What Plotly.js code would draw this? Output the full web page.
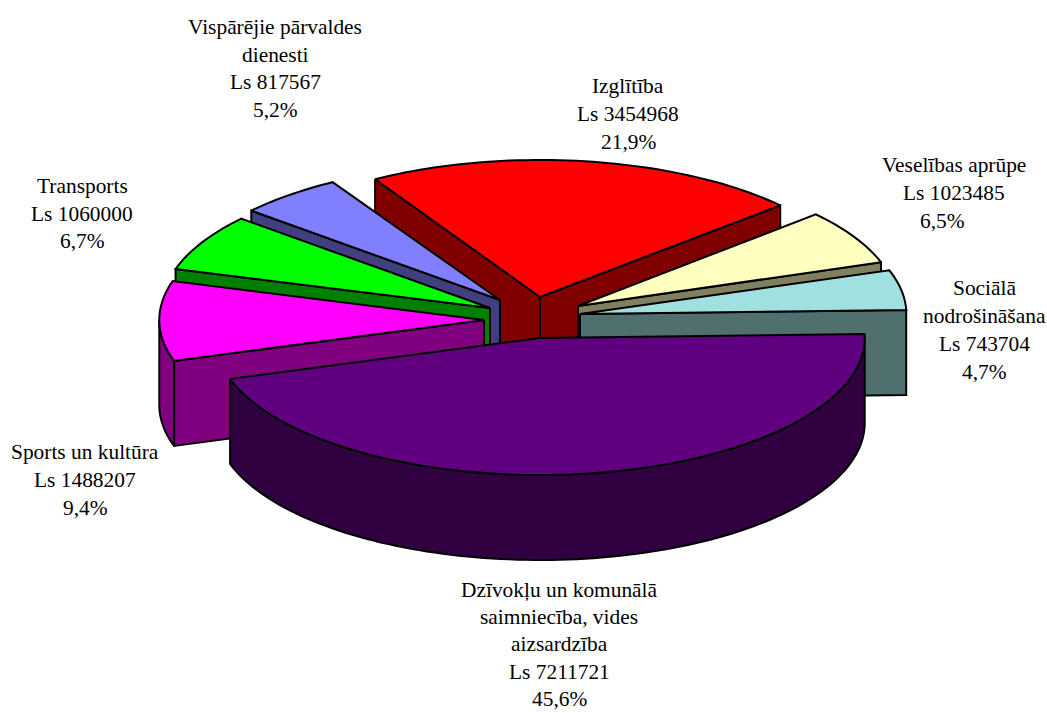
<!DOCTYPE html>
<html>
<head>
<meta charset="utf-8">
<script src="https://cdn.plot.ly/plotly-3.0.1.min.js"></script>
<style>html,body{margin:0;padding:0;background:#fff;overflow:hidden}</style>
</head>
<body>
<div id="chart" style="width:1047px;height:713px"></div>
<script>
// Data, in the clockwise order of the pie
const categories = [
  ["Dzīvokļu un komunālā", "saimniecība, vides", "aizsardzība"],
  ["Sports un kultūra"],
  ["Transports"],
  ["Vispārējie pārvaldes", "dienesti"],
  ["Izglītība"],
  ["Veselības aprūpe"],
  ["Sociālā", "nodrošināšana"]
];
const values = [7211721, 1488207, 1060000, 817567, 3454968, 1023485, 743704];
const percentLabels = ["45,6%", "9,4%", "6,7%", "5,2%", "21,9%", "6,5%", "4,7%"];
const topColors = ["#600080", "#FF00FF", "#00FF00", "#8080FF", "#FF0000", "#FFFFC0", "#A0E0E0"];
const sideColors = ["#300040", "#800080", "#008000", "#404080", "#800000", "#808060", "#507070"];

// Pie geometry (pixel scale of the hidden axes)
const RX = 328, RY = 137, DEPTH = 85, START_DEG = -1.7;
const radiusScale = [0.99, 0.99, 1, 1, 0.985, 0.975, 0.995];
const explodedCentres = [[540,338],[484,320],[490,308],[500,300],[540,297],[578,306],[580,314]];
const drawOrder = [4, 3, 5, 2, 6, 1, 0];
const labelAnchors = [[559,590],[85,452],[82,186],[275,27],[628,86],[954,165],[984,288]];
const lineGaps = [27.2, 28, 27.5, 27.7, 28, 28, 28];
const FONT = {family: '"Liberation Serif","Times New Roman",serif', size: 21.4, color: "#000"};

const total = values.reduce((a, b) => a + b, 0);
const rad = d => d * Math.PI / 180;
const traces = [];
function poly(pts, fill) {
  traces.push({
    type: "scatter", mode: "lines", fill: "toself", fillcolor: fill,
    x: pts.map(p => p[0]), y: pts.map(p => p[1]),
    line: {color: "#000", width: 2, simplify: false},
    hoverinfo: "skip", showlegend: false
  });
}

let angle = START_DEG;
const slices = values.map((v, i) => {
  const s = {i, a: angle, b: angle + v / total * 360};
  angle = s.b;
  return s;
});

drawOrder.forEach(i => {
  const {a, b} = slices[i];
  const c = explodedCentres[i];
  const k = radiusScale[i];
  const rim = (deg, dz) => [c[0] + k * RX * Math.cos(rad(deg)), c[1] + RY * Math.sin(rad(deg)) + dz];
  const arc = (p, q, dz) => {
    const n = Math.max(2, Math.ceil((q - p) / 1.5)), out = [];
    for (let j = 0; j <= n; j++) out.push(rim(p + (q - p) * j / n, dz));
    return out;
  };
  const bottomC = [c[0], c[1] + DEPTH];
  const side = sideColors[i];
  if (Math.cos(rad(a)) < 0) poly([c, rim(a, 0), rim(a, DEPTH), bottomC, c], side);
  if (Math.cos(rad(b)) > 0) poly([c, rim(b, 0), rim(b, DEPTH), bottomC, c], side);
  const ra = Math.max(a, 0), rb = Math.min(b, 180);
  if (rb > ra) {
    const top = arc(ra, rb, 0), low = arc(ra, rb, DEPTH).reverse();
    poly(top.concat(low, [top[0]]), side);
  }
  poly([c].concat(arc(a, b, 0), [c]), topColors[i]);
});

const annotations = [];
categories.forEach((lines, i) => {
  const all = lines.concat(["Ls " + values[i], percentLabels[i]]);
  all.forEach((t, k) => {
    annotations.push({
      xref: "x", yref: "y", x: labelAnchors[i][0] + (i === 5 && k === 2 ? -12 : 0),
      y: labelAnchors[i][1] + k * lineGaps[i],
      text: t, showarrow: false, xanchor: "center", yanchor: "middle", font: FONT
    });
  });
});

Plotly.newPlot("chart", traces, {
  width: 1047, height: 713,
  margin: {l: 0, r: 0, t: 0, b: 0},
  paper_bgcolor: "#fff", plot_bgcolor: "#fff",
  showlegend: false,
  xaxis: {range: [0, 1047], visible: false, fixedrange: true},
  yaxis: {range: [713, 0], visible: false, fixedrange: true},
  annotations
}, {displayModeBar: false, staticPlot: true});
</script>
</body>
</html>
